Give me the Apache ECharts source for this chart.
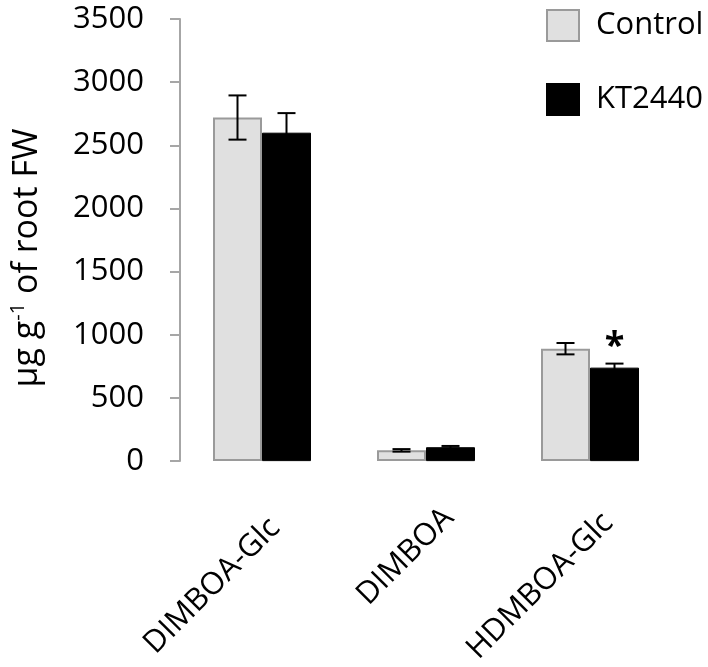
<!DOCTYPE html>
<html>
<head>
<meta charset="utf-8">
<script src="https://cdn.jsdelivr.net/npm/echarts@6/dist/echarts.min.js"></script>
<style>
  html, body { margin: 0; padding: 0; background: #ffffff; }
  #chart { width: 708px; height: 667px; }
</style>
</head>
<body>
<div id="chart"></div>
<script>
// ---- data ----
const categories = ['DIMBOA-Glc', 'DIMBOA', 'HDMBOA-Glc'];
const seriesNames = ['Control', 'KT2440'];
const controlValues = [2720, 85, 890];
const controlErrors = [175, 10, 45];
const ktValues = [2600, 110, 740];
const ktErrors = [155, 10, 32];
const ktSignificance = ['', '', '*'];
const yMin = 0, yMax = 3500, yInterval = 500;

// ---- styling ----
const FONT = '"Open Sans", "Noto Sans", sans-serif';
const BAR_W = 49;
const CAP_HALF = 9;
const LABEL_SHIFT = [14, 0, 7]; // per-label nudge (px) along the rotated text

function errorSeries(values, errors, marks, side) {
  return {
    type: 'custom',
    z: 5,
    silent: true,
    data: values.map((v, i) => [i, v, errors[i]]),
    renderItem: function (params, api) {
      const idx = api.value(0);
      const v = api.value(1);
      const e = api.value(2);
      const mark = marks ? marks[idx] : '';
      const top = api.coord([idx, v + e]);
      const bot = api.coord([idx, v - e]);
      const x = top[0] + side * BAR_W / 2;
      const st = { stroke: '#000', lineWidth: 2 };
      const children = [
        { type: 'line', shape: { x1: x, y1: top[1], x2: x, y2: bot[1] }, style: st },
        { type: 'line', shape: { x1: x - CAP_HALF, y1: top[1], x2: x + CAP_HALF, y2: top[1] }, style: st },
        { type: 'line', shape: { x1: x - CAP_HALF, y1: bot[1], x2: x + CAP_HALF, y2: bot[1] }, style: st }
      ];
      if (mark) {
        children.push({
          type: 'text',
          style: {
            text: mark, x: x, y: top[1] + 1,
            align: 'center', verticalAlign: 'bottom',
            font: 'bold 36px ' + FONT, fill: '#000'
          }
        });
      }
      return { type: 'group', children: children };
    }
  };
}

const labelRich = {};
LABEL_SHIFT.forEach(function (s, i) {
  labelRich['l' + i] = { fontFamily: FONT, fontSize: 31, color: '#000', padding: [0, s, 0, 0] };
});

const chart = echarts.init(document.getElementById('chart'), null, { renderer: 'canvas' });
chart.setOption({
  animation: false,
  backgroundColor: '#ffffff',
  grid: { left: 173, right: 36, top: 19, bottom: 205, containLabel: false },
  legend: {
    data: seriesNames,
    orient: 'vertical',
    left: 541,
    top: 4,
    icon: 'rect',
    itemWidth: 32,
    itemHeight: 31,
    itemGap: 41,
    textStyle: { fontFamily: FONT, fontSize: 31, color: '#000', padding: [0, 0, 0, 12] }
  },
  xAxis: {
    type: 'category',
    data: categories,
    axisLine: { show: false },
    axisTick: { show: false },
    axisLabel: {
      interval: 0,
      rotate: 45,
      margin: 29,
      verticalAlign: 'top',
      padding: [17, 0, 0, 0],
      fontFamily: FONT,
      fontSize: 31,
      color: '#000',
      formatter: function (val, idx) { return '{l' + idx + '|' + val + '}'; },
      rich: labelRich
    }
  },
  yAxis: {
    type: 'value',
    min: yMin,
    max: yMax,
    interval: yInterval,
    name: 'μg g{sup|-1} of root FW',
    nameLocation: 'middle',
    nameRotate: 90,
    nameGap: 134,
    nameTextStyle: {
      fontFamily: FONT, fontSize: 34, color: '#000', lineHeight: 38,
      padding: [0, 36, 0, 0],
      rich: { sup: { fontFamily: FONT, fontSize: 20, color: '#000', verticalAlign: 'top', lineHeight: 20 } }
    },
    axisLine: { show: true, lineStyle: { color: '#a6a6a6', width: 2 } },
    axisTick: { show: true, length: 10, lineStyle: { color: '#a6a6a6', width: 2 } },
    splitLine: { show: false },
    axisLabel: {
      margin: 36, fontFamily: FONT, fontSize: 31, color: '#000',
      formatter: function (v) { return String(v); }
    }
  },
  series: [
    {
      name: seriesNames[0],
      type: 'bar',
      data: controlValues,
      barWidth: BAR_W,
      barGap: '0%',
      itemStyle: { color: '#e0e0e0', borderColor: '#9a9a9a', borderWidth: 2 }
    },
    {
      name: seriesNames[1],
      type: 'bar',
      data: ktValues,
      barWidth: BAR_W,
      barGap: '0%',
      itemStyle: { color: '#000000', borderColor: '#000000', borderWidth: 1 }
    },
    errorSeries(controlValues, controlErrors, null, -1),
    errorSeries(ktValues, ktErrors, ktSignificance, 1)
  ]
});
</script>
</body>
</html>
